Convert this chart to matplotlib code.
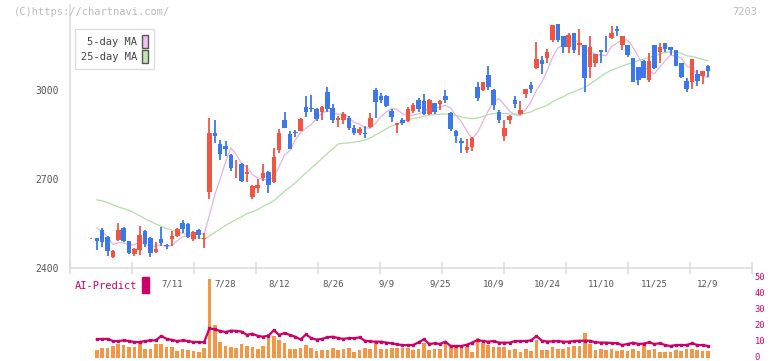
import numpy as np
import matplotlib
matplotlib.use("Agg")
import matplotlib.pyplot as plt
from matplotlib.patches import Patch
from matplotlib.transforms import ScaledTranslation

# daily candles (price), index 0 = first day shown
opens = [2500, 2501, 2528, 2506, 2438, 2494, 2534, 2491, 2447, 2461,
         2525, 2501, 2455, 2498, 2478, 2499, 2508, 2551, 2548, 2499,
         2528, 2498, 2657, 2854, 2818, 2811, 2781, 2739, 2751, 2715,
         2640, 2671, 2703, 2725, 2690, 2798, 2899, 2852, 2856, 2862,
         2944, 2939, 2936, 2925, 2992, 2938, 2899, 2900, 2905, 2871,
         2855, 2855, 2874, 3000, 2980, 2980, 2930, 2881, 2899, 2896,
         2930, 2966, 2961, 2919, 2955, 2954, 2980, 2921, 2862, 2828,
         2796, 2806, 3011, 2998, 3051, 3000, 2925, 2845, 2897, 2966,
         2919, 2987, 3018, 3073, 3101, 3109, 3169, 3222, 3180, 3146,
         3193, 3152, 3152, 3076, 3090, 3135, 3149, 3174, 3205, 3152,
         3152, 3107, 3076, 3098, 3034, 3152, 3129, 3157, 3143, 3135,
         3090, 3031, 3028, 3053, 3048, 3079]
highs = [2502, 2502, 2536, 2508, 2461, 2553, 2537, 2492, 2466, 2542,
         2528, 2503, 2489, 2537, 2481, 2525, 2534, 2562, 2550, 2523,
         2530, 2519, 2907, 2899, 2831, 2829, 2783, 2764, 2755, 2747,
         2678, 2700, 2751, 2727, 2804, 2869, 2926, 2860, 2865, 2904,
         2980, 2983, 2940, 2945, 3011, 2954, 2912, 2926, 2912, 2882,
         2876, 2879, 2921, 3008, 2991, 2982, 2935, 2890, 2905, 2944,
         2957, 2974, 2987, 2968, 2957, 2965, 3000, 2927, 2864, 2837,
         2834, 2841, 3025, 3028, 3079, 3002, 2933, 2899, 2916, 2980,
         2961, 3003, 3026, 3163, 3115, 3137, 3220, 3223, 3180, 3193,
         3193, 3204, 3152, 3182, 3121, 3136, 3180, 3216, 3216, 3183,
         3152, 3107, 3076, 3101, 3124, 3152, 3157, 3157, 3143, 3135,
         3090, 3039, 3105, 3067, 3063, 3084]
lows = [2498, 2461, 2472, 2441, 2433, 2492, 2489, 2446, 2440, 2444,
        2472, 2438, 2449, 2474, 2463, 2474, 2506, 2519, 2501, 2492,
        2499, 2469, 2633, 2822, 2764, 2778, 2727, 2704, 2689, 2690,
        2633, 2651, 2692, 2652, 2686, 2789, 2870, 2800, 2840, 2862,
        2910, 2924, 2896, 2897, 2924, 2888, 2876, 2885, 2865, 2848,
        2848, 2839, 2870, 2907, 2955, 2944, 2893, 2856, 2882, 2893,
        2921, 2927, 2917, 2915, 2919, 2933, 2955, 2862, 2820, 2789,
        2787, 2795, 2961, 2995, 2998, 2933, 2890, 2829, 2885, 2938,
        2916, 2972, 2991, 3070, 3054, 3090, 3163, 3163, 3124, 3124,
        3124, 3118, 2994, 3039, 3076, 3090, 3129, 3173, 3180, 3133,
        3112, 3028, 3017, 3039, 3028, 3070, 3090, 3126, 3118, 3081,
        3039, 2994, 3003, 3013, 3020, 3043]
closes = [2500, 2492, 2489, 2458, 2457, 2528, 2492, 2452, 2464, 2511,
          2481, 2452, 2463, 2485, 2474, 2508, 2530, 2530, 2503, 2521,
          2512, 2499, 2856, 2845, 2784, 2801, 2738, 2741, 2693, 2725,
          2676, 2680, 2721, 2678, 2774, 2855, 2873, 2801, 2854, 2902,
          2924, 2937, 2903, 2943, 2937, 2897, 2905, 2920, 2873, 2855,
          2868, 2851, 2906, 2960, 2966, 2946, 2910, 2888, 2888, 2936,
          2950, 2935, 2919, 2966, 2927, 2963, 2966, 2869, 2845, 2820,
          2806, 2837, 2974, 3025, 3009, 2948, 2897, 2871, 2912, 2953,
          2933, 3003, 3003, 3105, 3088, 3129, 3219, 3169, 3146, 3185,
          3135, 3157, 3039, 3143, 3120, 3129, 3147, 3193, 3199, 3182,
          3118, 3028, 3034, 3039, 3098, 3073, 3143, 3138, 3133, 3081,
          3045, 3003, 3104, 3030, 3062, 3065]

nan = float("nan")
ma5 = [nan, 2535, 2522, 2505, 2479.2, 2484.8, 2484.8, 2477.4, 2478.6, 2489.4,
       2480.0, 2472.0, 2474.2, 2478.4, 2471.0, 2476.4, 2492.0, 2505.4, 2509.0, 2518.4,
       2519.2, 2513.0, 2578.2, 2646.6, 2699.2, 2757.0, 2804.8, 2781.8, 2751.4, 2739.6,
       2714.6, 2703.0, 2699.0, 2696.0, 2705.8, 2741.6, 2780.2, 2796.2, 2831.4, 2857.0,
       2870.8, 2883.6, 2904.0, 2921.8, 2928.8, 2923.4, 2917.0, 2920.4, 2906.4, 2890.0,
       2884.2, 2873.4, 2870.6, 2888.0, 2910.2, 2925.8, 2937.6, 2934.0, 2919.6, 2913.6,
       2914.4, 2919.4, 2925.6, 2941.2, 2939.4, 2942.0, 2948.2, 2938.2, 2914.0, 2892.6,
       2861.2, 2835.4, 2856.4, 2892.4, 2930.2, 2958.6, 2970.6, 2950.0, 2927.4, 2916.2,
       2913.2, 2934.4, 2960.8, 2999.4, 3026.4, 3065.6, 3108.8, 3142.0, 3150.2, 3169.6,
       3170.8, 3158.4, 3132.4, 3131.8, 3118.8, 3117.6, 3115.6, 3146.4, 3157.6, 3170.0,
       3167.8, 3144.0, 3112.2, 3080.2, 3063.4, 3054.4, 3077.4, 3098.2, 3117.0, 3113.6,
       3108.0, 3080.0, 3073.2, 3052.6, 3048.8, 3041.0]
ma25 = [nan, 2630, 2626, 2620, 2613, 2606, 2600, 2594, 2586, 2576,
        2566, 2557, 2548, 2540, 2533, 2527, 2522, 2517, 2512, 2508,
        2503, 2496, 2508, 2520, 2531.4, 2543.5, 2553.3, 2563.4, 2572.8, 2583.5,
        2589.4, 2597.0, 2607.7, 2616.3, 2626.8, 2641.8, 2658.6, 2672.1, 2686.9, 2704.0,
        2720.6, 2736.9, 2751.8, 2769.4, 2786.1, 2801.5, 2817.7, 2820.3, 2821.4, 2824.2,
        2826.9, 2831.4, 2838.0, 2848.7, 2858.4, 2869.2, 2878.4, 2885.0, 2893.4, 2899.9,
        2903.7, 2906.2, 2910.9, 2915.4, 2916.4, 2918.0, 2919.1, 2917.8, 2913.8, 2909.2,
        2905.5, 2902.8, 2905.0, 2911.0, 2917.2, 2920.4, 2922.2, 2920.8, 2918.9, 2918.4,
        2917.9, 2921.6, 2926.2, 2934.9, 2941.0, 2948.1, 2959.5, 2969.5, 2976.7, 2987.0,
        2993.9, 3001.5, 3008.3, 3020.2, 3032.2, 3045.2, 3057.6, 3066.3, 3073.3, 3080.2,
        3087.0, 3092.2, 3098.8, 3103.8, 3109.6, 3115.2, 3120.8, 3126.2, 3127.4, 3127.1,
        3123.7, 3115.1, 3112.5, 3107.8, 3102.9, 3097.8]

# lower panel (0-50 scale)
bars = [nan, 5.0, 6.0, 6.5, 7.5, 8.75, 8.1, 7.1, 7.1, 9.2,
        5.6, 5.6, 8.75, 8.75, 7.1, 7.1, 4.4, 5.6, 5.0, 4.4,
        4.0, 6.5, 49.5, 20.6, 10.2, 7.5, 6.7, 6.0, 8.75, 7.7,
        7.1, 5.6, 7.5, 15.0, 13.75, 11.25, 9.6, 5.6, 5.6, 6.0,
        8.3, 6.5, 4.6, 5.0, 5.0, 6.5, 5.0, 5.6, 6.5, 4.0,
        5.0, 6.5, 5.6, 9.2, 5.6, 5.6, 6.5, 6.5, 6.5, 6.5,
        5.0, 5.6, 9.6, 5.0, 5.6, 5.6, 9.2, 7.1, 7.1, 7.1,
        7.1, 4.0, 12.7, 9.2, 8.1, 7.1, 7.1, 6.7, 5.0, 5.6,
        4.0, 5.6, 4.4, 11.25, 5.0, 5.0, 6.7, 5.6, 5.6, 6.7,
        7.5, 7.7, 15.8, 8.75, 5.0, 5.6, 5.0, 5.6, 4.6, 5.0,
        4.6, 5.6, 4.6, 8.1, 5.0, 5.6, 3.5, 4.0, 4.0, 5.0,
        4.6, 5.6, 5.6, 5.0, 4.6, 4.6]
predict = [nan, 11.7, 11.9, 11.9, 10.6, 10.6, 11.0, 10.6, 10.0, 10.0,
           10.6, 11.0, 11.0, 13.8, 12.0, 11.3, 10.6, 11.0, 10.6, 10.0,
           10.0, 9.8, 18.5, 17.9, 16.9, 16.2, 17.1, 16.9, 16.5, 14.4,
           15.2, 13.8, 13.3, 14.0, 17.3, 14.4, 15.6, 14.4, 13.3, 11.6,
           14.7, 12.4, 11.5, 11.9, 13.0, 13.3, 12.5, 11.9, 12.5, 12.3,
           12.9, 10.8, 10.4, 10.2, 10.2, 9.6, 9.2, 8.5, 8.1, 8.1,
           8.1, 9.8, 11.7, 8.75, 9.2, 8.75, 10.2, 7.5, 7.5, 7.5,
           8.3, 9.6, 11.25, 10.6, 10.2, 10.6, 9.6, 9.6, 9.6, 10.6,
           10.6, 10.6, 11.0, 13.75, 10.8, 10.3, 10.4, 10.6, 10.2, 10.2,
           10.6, 10.8, 10.8, 10.8, 9.8, 9.6, 9.6, 9.4, 9.2, 8.1,
           8.75, 9.6, 8.75, 9.0, 9.8, 8.75, 9.2, 8.1, 7.5, 8.1,
           8.1, 8.1, 9.2, 8.1, 8.1, 7.5]

date_idx = [15, 25, 35, 45, 55, 65, 75, 85, 95, 105, 115]
date_labels = ["7/11", "7/28", "8/12", "8/26", "9/9", "9/25", "10/9",
               "10/24", "11/10", "11/25", "12/9"]
price_ticks = [2400, 2700, 3000]
sub_ticks = [0, 10, 20, 30, 40, 50]

RED = "#f15443"
BLUE = "#3b78ea"
MAGENTA = "#cc0066"
ORANGE = "#f39645"
GRID = "#dddddd"
TXT = "#555555"
MONO = "DejaVu Sans Mono"

W, H = 772, 361
fig = plt.figure(figsize=(W / 100, H / 100), dpi=100)

x = np.arange(len(closes))
o = np.array(opens, float)
c = np.array(closes, float)
hi = np.array(highs, float)
lo = np.array(lows, float)
up = c >= o
cols = np.where(up, RED, BLUE)

# main price panel
ax = fig.add_axes([70 / W, (H - 268) / H, 682 / W, 263 / H])
xmin, xmax = -4.01, 123.2
ax.set_xlim(xmin, xmax)
ax.set_ylim(2400, 3286)

ax.vlines(x, lo, hi, colors=cols, linewidth=1.3, zorder=2)
body_h = np.maximum(np.abs(c - o), 2.5)
ax.bar(x, body_h, bottom=np.minimum(o, c), width=0.85, color=cols,
       linewidth=0, zorder=3)

ax.plot(x, ma5, color="#e6b0e8", linewidth=0.9, zorder=1)
ax.plot(x, ma25, color="#b5dca9", linewidth=0.9, zorder=1)

for s in ["top", "right"]:
    ax.spines[s].set_visible(False)
for s in ["left", "bottom"]:
    ax.spines[s].set_color(GRID)
    ax.spines[s].set_linewidth(1.2)
ax.set_xticks(np.linspace(xmin, xmax, 12))
ax.set_xticklabels([])
ax.tick_params(axis="x", direction="inout", length=8, width=1.2, color=GRID)
ax.set_yticks(price_ticks)
ax.set_yticklabels([str(v) for v in price_ticks], fontfamily=MONO,
                   fontsize=7, color=TXT)
ax.tick_params(axis="y", length=0, pad=8)

handles = [Patch(facecolor="#f0c0f0", edgecolor="#555555", linewidth=1.0),
           Patch(facecolor="#c4e4b8", edgecolor="#555555", linewidth=1.0)]
leg = ax.legend(handles, ["5-day MA", "25-day MA"], loc="upper left",
                bbox_to_anchor=(0.0, (268 - 24) / 263), markerfirst=False,
                handlelength=0.55, handleheight=1.5, handletextpad=0.5,
                borderpad=0.55, labelspacing=0.25, fancybox=False,
                framealpha=1, edgecolor=GRID,
                prop={"family": MONO, "size": 7.5})
for t in leg.get_texts():
    t.set_color("#444444")
leg.get_frame().set_linewidth(1.0)

# lower panel
ax2 = fig.add_axes([70 / W, (H - 358) / H, 682 / W, 80 / H])
ax2.set_xlim(xmin, xmax)
ax2.set_ylim(0, 50)
ax2.bar(x, bars, width=0.68, color=ORANGE, linewidth=0, zorder=1)
ax2.plot(x, predict, color=MAGENTA, linewidth=1.6, marker="s",
         markersize=1.4, zorder=2)
for s in ax2.spines.values():
    s.set_visible(False)
ax2.set_xticks([])
ax2.yaxis.tick_right()
ax2.set_yticks(sub_ticks)
ax2.set_yticklabels([str(v) for v in sub_ticks], fontfamily=MONO,
                    fontsize=6.3, color=MAGENTA)
ax2.tick_params(axis="y", length=0, pad=2)
lift = ScaledTranslation(0, 2 / 100, fig.dpi_scale_trans)
for lab in ax2.get_yticklabels():
    lab.set_transform(lab.get_transform() + lift)

for i, lab in zip(date_idx, date_labels):
    ax2.text(i, 0.93, lab, transform=ax2.get_xaxis_transform(), ha="center",
             va="center", fontfamily=MONO, fontsize=6.5, color=TXT)

fig.text(75 / W, 1 - 286 / H, "AI-Predict", fontfamily=MONO, fontsize=7.5,
         color=MAGENTA, va="center", ha="left")
fig.patches.append(plt.Rectangle((142 / W, 1 - 293 / H), 7 / W, 16 / H,
                                 transform=fig.transFigure, color=MAGENTA))

fig.text(14 / W, 1 - 12 / H, "(C)https://chartnavi.com/", fontfamily=MONO,
         fontsize=7.5, color="#bbbbbb", va="center", ha="left")
fig.text(757 / W, 1 - 12 / H, "7203", fontfamily=MONO, fontsize=7.5,
         color="#bbbbbb", va="center", ha="right")

fig.savefig("out.png", dpi=100)
